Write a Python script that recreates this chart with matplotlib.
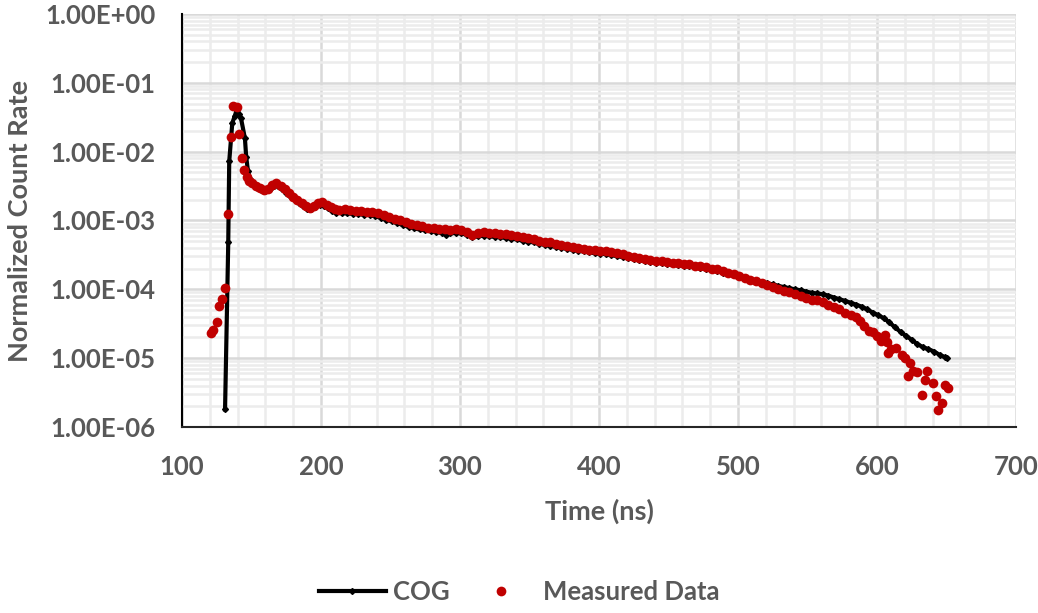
import matplotlib.pyplot as plt
import numpy as np
from matplotlib.ticker import FixedLocator, FuncFormatter, LogLocator, NullFormatter

# COG model curve (time in ns, normalized count rate)
cog_t = [
    131, 133.3, 134, 136.2, 138, 139.3, 140.8, 142.4, 145.3, 146.2, 147.5, 149,
    151, 154, 157, 160, 163, 166, 169, 172, 175, 178, 181, 184, 187, 190, 193,
    196, 199, 202, 205, 208, 211, 215, 219, 223, 227, 231, 235, 239, 243, 247,
    251, 255, 259, 263, 267, 271, 275, 279, 283, 287, 290, 293, 297, 301, 305,
    309, 313, 317, 321, 325, 329, 333, 337, 341, 345, 349, 353, 357, 361, 365,
    369, 373, 377, 381, 385, 389, 393, 397, 401, 405, 409, 413, 417, 421, 425,
    429, 433, 437, 441, 445, 449, 453, 457, 461, 465, 469, 473, 477, 481, 485,
    489, 493, 497, 501, 505, 509, 513, 517, 521, 525, 529, 533, 537, 541, 545,
    549, 553, 557, 561, 565, 569, 573, 577, 581, 585, 589, 593, 597, 601, 605,
    609, 613, 617, 621, 625, 629, 633, 637, 641, 645, 649, 650.5,
]
cog_y = [
    1.8e-6, 4.8e-4, 7.2e-3, 2.6e-2, 3.3e-2, 4.0e-2, 3.5e-2, 3.1e-2, 1.56e-2, 8.4e-3, 5.2e-3, 4.0e-3,
    3.4e-3, 3.0e-3, 2.75e-3, 2.7e-3, 2.85e-3, 3.15e-3, 3.2e-3, 2.9e-3, 2.55e-3, 2.25e-3, 2.0e-3, 1.8e-3, 1.62e-3, 1.48e-3, 1.45e-3,
    1.55e-3, 1.68e-3, 1.65e-3, 1.5e-3, 1.38e-3, 1.3e-3, 1.28e-3, 1.27e-3, 1.25e-3, 1.24e-3, 1.22e-3, 1.2e-3, 1.15e-3, 1.1e-3, 1.03e-3,
    9.7e-4, 9.1e-4, 8.6e-4, 8.1e-4, 7.7e-4, 7.4e-4, 7.2e-4, 7.0e-4, 6.8e-4, 6.6e-4, 6.2e-4, 6.5e-4, 6.6e-4, 6.5e-4, 6.2e-4,
    5.7e-4, 5.9e-4, 6.0e-4, 5.9e-4, 5.8e-4, 5.7e-4, 5.6e-4, 5.45e-4, 5.3e-4, 5.1e-4, 4.95e-4, 4.8e-4, 4.6e-4, 4.45e-4, 4.3e-4,
    4.15e-4, 4.0e-4, 3.9e-4, 3.75e-4, 3.65e-4, 3.55e-4, 3.45e-4, 3.35e-4, 3.3e-4, 3.25e-4, 3.15e-4, 3.05e-4, 2.95e-4, 2.85e-4, 2.75e-4,
    2.65e-4, 2.55e-4, 2.5e-4, 2.45e-4, 2.4e-4, 2.35e-4, 2.3e-4, 2.25e-4, 2.2e-4, 2.15e-4, 2.1e-4, 2.05e-4, 1.98e-4, 1.9e-4, 1.82e-4,
    1.75e-4, 1.68e-4, 1.6e-4, 1.52e-4, 1.45e-4, 1.4e-4, 1.33e-4, 1.27e-4, 1.22e-4, 1.18e-4, 1.12e-4, 1.08e-4, 1.04e-4, 1.0e-4, 9.7e-5,
    9.3e-5, 8.9e-5, 8.7e-5, 8.5e-5, 8.1e-5, 7.6e-5, 7.2e-5, 6.8e-5, 6.4e-5, 6.0e-5, 5.6e-5, 5.1e-5, 4.6e-5, 4.2e-5, 3.8e-5,
    3.3e-5, 2.8e-5, 2.4e-5, 2.1e-5, 1.85e-5, 1.6e-5, 1.45e-5, 1.35e-5, 1.25e-5, 1.12e-5, 1.03e-5, 1.0e-5,
]

# measured points
meas_t = [
    120.6, 122.5, 125, 126.8, 129, 130.9, 132.9, 135, 136.9, 139.3, 141.2, 143.4,
    144.8, 146.5, 148.5, 150.5, 153, 156, 159, 162, 165, 168, 171, 174, 177, 180,
    183, 186, 189, 192, 195, 198, 201, 204, 207, 210, 213, 217, 221, 225, 229, 233,
    237, 241, 245, 249, 253, 257, 261, 265, 269, 273, 277, 281, 285, 289, 293, 297,
    301, 305, 309, 313, 317, 321, 325, 329, 333, 337, 341, 345, 349, 353, 357, 361,
    365, 369, 373, 377, 381, 385, 389, 393, 397, 401, 405, 409, 413, 417, 421, 425,
    429, 433, 437, 441, 445, 449, 453, 457, 461, 465, 469, 473, 477, 481, 485, 489,
    493, 497, 501, 505, 509, 513, 517, 521, 525, 529, 533, 537, 541, 545, 549, 553,
    557, 561, 565, 569, 573, 577, 581, 585, 588, 591, 594, 597, 600, 603, 605.8,
    607, 608, 610, 613.5, 617.8, 620, 622.5, 623.7, 626, 628.5, 632.6, 634.5, 635.7,
    640.5, 642.4, 644, 646.5, 649, 651.3,
]
meas_y = [
    2.3e-5, 2.6e-5, 3.4e-5, 5.8e-5, 7.2e-5, 1.05e-4, 1.24e-3, 1.65e-2, 4.6e-2, 4.5e-2, 1.78e-2, 8.2e-3,
    5.4e-3, 4.3e-3, 3.8e-3, 3.5e-3, 3.2e-3, 2.95e-3, 2.8e-3, 2.9e-3, 3.25e-3, 3.45e-3, 3.2e-3, 2.85e-3, 2.5e-3, 2.2e-3,
    2.0e-3, 1.8e-3, 1.62e-3, 1.5e-3, 1.6e-3, 1.8e-3, 1.85e-3, 1.7e-3, 1.55e-3, 1.45e-3, 1.42e-3, 1.45e-3, 1.4e-3, 1.38e-3, 1.36e-3, 1.34e-3,
    1.31e-3, 1.28e-3, 1.2e-3, 1.13e-3, 1.06e-3, 1.0e-3, 9.4e-4, 8.9e-4, 8.5e-4, 8.2e-4, 7.9e-4, 7.7e-4, 7.5e-4, 7.4e-4, 7.3e-4, 7.4e-4,
    7.3e-4, 6.8e-4, 6.2e-4, 6.5e-4, 6.8e-4, 6.6e-4, 6.5e-4, 6.4e-4, 6.3e-4, 6.1e-4, 5.9e-4, 5.7e-4, 5.5e-4, 5.3e-4, 5.1e-4, 4.95e-4,
    4.8e-4, 4.6e-4, 4.45e-4, 4.3e-4, 4.15e-4, 4.05e-4, 3.9e-4, 3.75e-4, 3.7e-4, 3.6e-4, 3.55e-4, 3.5e-4, 3.4e-4, 3.25e-4, 3.1e-4, 2.95e-4,
    2.85e-4, 2.75e-4, 2.65e-4, 2.6e-4, 2.55e-4, 2.5e-4, 2.45e-4, 2.4e-4, 2.35e-4, 2.3e-4, 2.2e-4, 2.15e-4, 2.1e-4, 2.0e-4, 1.95e-4, 1.85e-4,
    1.75e-4, 1.65e-4, 1.55e-4, 1.45e-4, 1.38e-4, 1.3e-4, 1.22e-4, 1.15e-4, 1.08e-4, 1.02e-4, 9.6e-5, 9.0e-5, 8.5e-5, 8.0e-5, 7.5e-5, 7.1e-5,
    6.9e-5, 6.6e-5, 6.0e-5, 5.5e-5, 5.1e-5, 4.6e-5, 4.2e-5, 3.9e-5, 3.5e-5, 2.9e-5, 2.5e-5, 2.4e-5, 2.1e-5, 1.8e-5, 2.2e-5,
    1.7e-5, 1.2e-5, 1.35e-5, 1.4e-5, 1.1e-5, 1.0e-5, 5.5e-6, 8.6e-6, 6.5e-6, 6.3e-6, 2.9e-6, 4.9e-6, 6.5e-6,
    4.3e-6, 2.8e-6, 1.75e-6, 2.2e-6, 4.1e-6, 3.7e-6,
]

x_ticks = [100, 200, 300, 400, 500, 600, 700]
y_ticks = [1e-6, 1e-5, 1e-4, 1e-3, 1e-2, 1e-1, 1e0]

grey = "#595959"
plt.rcParams["font.family"] = ["Lato", "DejaVu Sans"]
plt.rcParams["font.weight"] = "bold"
plt.rcParams["axes.labelweight"] = "bold"

fig = plt.figure(figsize=(10.38, 6.13), dpi=100)
ax = fig.add_axes([0.1753, 0.3034, 0.8035, 0.6738])

ax.plot(cog_t, cog_y, color="black", lw=3.0, marker="D", ms=3.0, label="COG", zorder=3)
ax.plot(meas_t, meas_y, ls="none", color="#c00000", marker="o", ms=7.0, mec="none",
        label="Measured Data", zorder=4)

ax.set_yscale("log")
ax.set_xlim(100, 700)
ax.set_ylim(1e-6, 1e0)
ax.xaxis.set_major_locator(FixedLocator(x_ticks))
ax.xaxis.set_minor_locator(FixedLocator(np.arange(100, 701, 20)))
ax.yaxis.set_major_locator(FixedLocator(y_ticks))
ax.yaxis.set_minor_locator(LogLocator(base=10, subs=np.arange(2, 10)))
ax.yaxis.set_major_formatter(FuncFormatter(lambda v, p: f"{v:.2E}"))
ax.yaxis.set_minor_formatter(NullFormatter())

ax.grid(True, which="major", color="#d9d9d9", lw=1.8, zorder=0)
ax.grid(True, which="minor", color="#ececec", lw=1.8, zorder=0)
ax.set_axisbelow(True)

ax.tick_params(which="both", length=0)
ax.tick_params(axis="y", pad=19, labelsize=18.5, labelcolor=grey)
ax.tick_params(axis="x", pad=20, labelsize=18.5, labelcolor=grey)

for side in ["top", "right"]:
    ax.spines[side].set_visible(False)
ax.spines["left"].set_linewidth(1.5)
ax.spines["left"].set_color("black")
ax.spines["bottom"].set_linewidth(1.5)
ax.spines["bottom"].set_color("#262626")

ax.set_xlabel("Time (ns)", fontsize=19.5, color=grey, labelpad=14)
ax.set_ylabel("Normalized Count Rate", fontsize=19.5, color=grey)
ax.yaxis.set_label_coords(-0.18, 0.5)

fig.legend(loc="center", bbox_to_anchor=(0.5, 0.035), ncol=2, frameon=False,
           prop={"size": 18.5, "weight": "bold"}, labelcolor=grey,
           handlelength=2.6, columnspacing=0.7, handletextpad=0.3)

fig.savefig("out.png", dpi=100)
